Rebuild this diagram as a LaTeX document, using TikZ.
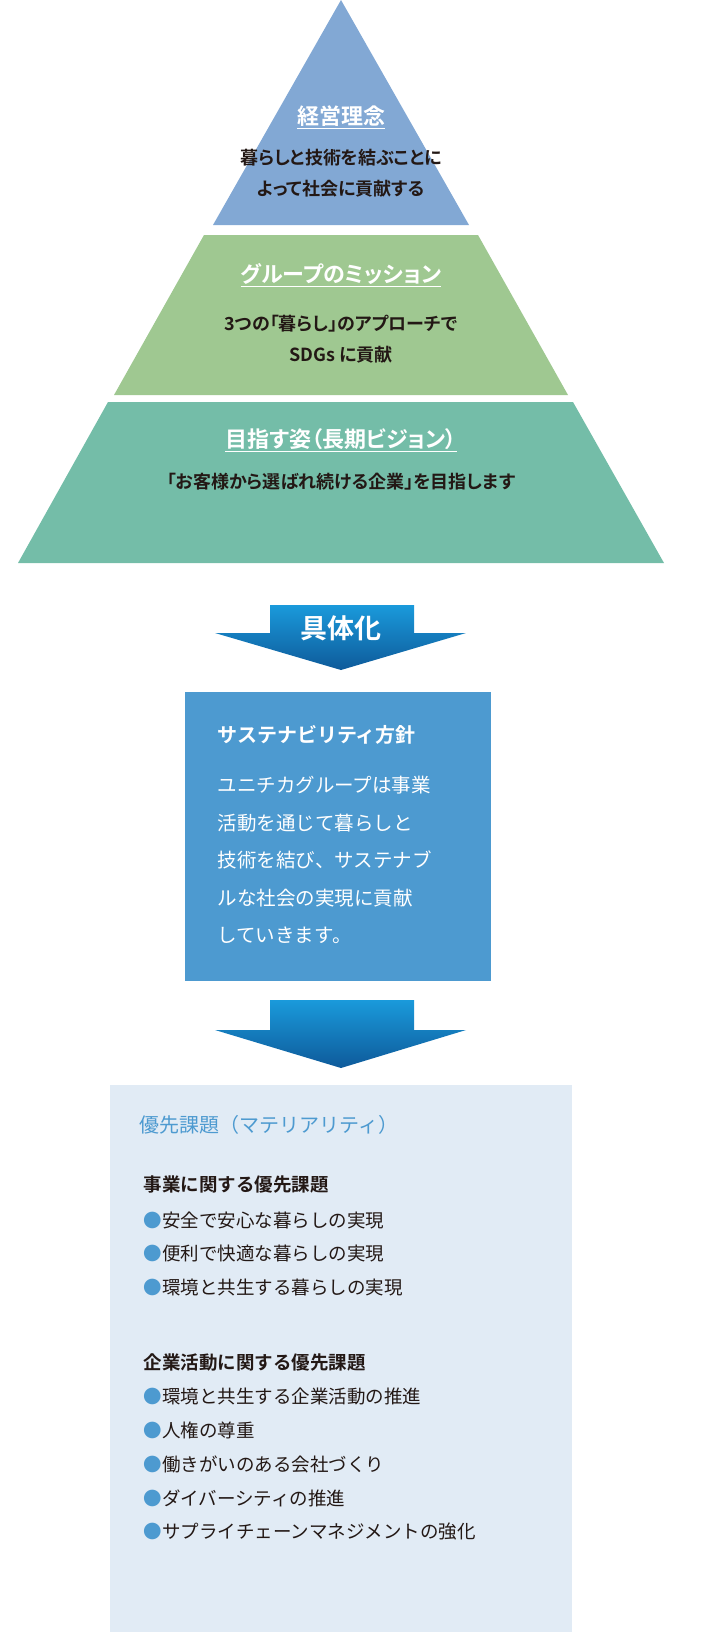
\documentclass[tikz,border=0pt]{standalone}
\usepackage{fontspec}
\newfontfamily\jp{Noto Sans CJK JP}
\newfontfamily\jpb{Noto Sans CJK JP Bold}
\newfontfamily\jpbp[RawFeature=+palt]{Noto Sans CJK JP Bold}
\usetikzlibrary{positioning}
\definecolor{tierA}{HTML}{82A8D4}
\definecolor{tierB}{HTML}{9FC891}
\definecolor{tierC}{HTML}{74BDA8}
\definecolor{policyblue}{HTML}{4D9AD0}
\definecolor{matbg}{HTML}{E1EBF5}
\definecolor{arrowtop}{HTML}{1A9ADB}
\definecolor{arrowbot}{HTML}{0E5A9A}
\definecolor{darktext}{HTML}{231815}
\newcommand{\ul}[1]{\underline{#1}}
\begin{document}
\begin{tikzpicture}[x=1pt,y=-1pt,
    tier title/.style={font=\jpbp\fontsize{22}{24}\selectfont,text=white},
    tier text/.style={font=\jpbp\fontsize{18}{31}\selectfont,text=darktext,align=center},
    item/.style={font=\jp\fontsize{18.5}{20}\selectfont,text=darktext,anchor=west},
    head/.style={font=\jpb\fontsize{18.5}{20}\selectfont,text=darktext,anchor=west},
    dot/.style={text=policyblue}]
  \useasboundingbox (0,0) rectangle (710,1632);
  % pyramid
  \fill[tierA] (341,0) -- (469,225) -- (213,225) -- cycle;
  \fill[tierB] (204,235) -- (478,235) -- (568,395) -- (114,395) -- cycle;
  \fill[tierC] (108,402) -- (573,402) -- (664,563) -- (18,563) -- cycle;
  \node[tier title] (philo) at (341,117) {\ul{経営理念}};
  \node[tier text] (philotext) at (341,173) {暮らしと技術を結ぶことに\\よって社会に貢献する};
  \node[tier title] (mission) at (341,275) {\ul{グループのミッション}};
  \node[tier text] (missiontext) at (341,339) {3つの「暮らし」のアプローチで\\SDGs に貢献};
  \node[tier title] (vision) at (341,440) {\ul{目指す姿（長期ビジョン）}};
  \node[tier text] (visiontext) at (341,482) {「お客様から選ばれ続ける企業」を目指します};
  % arrows
  \shade[top color=arrowtop,bottom color=arrowbot]
    (270,605) -- (414,605) -- (414,633) -- (466,633) -- (341,670) -- (215,633) -- (270,633) -- cycle;
  \node[font=\jpb\fontsize{27}{28}\selectfont,text=white] (concrete) at (341,628) {具体化};
  \shade[top color=arrowtop,bottom color=arrowbot]
    (270,1000) -- (414,1000) -- (414,1030) -- (466,1030) -- (341,1068) -- (215,1030) -- (270,1030) -- cycle;
  % policy box
  \fill[policyblue] (185,692) rectangle (491,981);
  \node[font=\jpb\fontsize{20}{21}\selectfont,text=white,anchor=west] (policy) at (214,735) {サステナビリティ方針};
  \node[font=\jp\fontsize{19.5}{37.5}\selectfont,text=white,anchor=north west,align=left] (policytext) at (214,773)
    {ユニチカグループは事業\\活動を通じて暮らしと\\技術を結び、サステナブ\\ルな社会の実現に貢献\\していきます。};
  % materiality
  \fill[matbg] (110,1085) rectangle (572,1632);
  \node[font=\jp\fontsize{20}{21}\selectfont,text=policyblue,anchor=west] (mat) at (136,1125) {優先課題（マテリアリティ）};
  \node[head] (bizhead) at (140,1185) {事業に関する優先課題};
  \node[item] (b1) at (140,1220) {{\color{policyblue}●}安全で安心な暮らしの実現};
  \node[item] (b2) at (140,1254) {{\color{policyblue}●}便利で快適な暮らしの実現};
  \node[item] (b3) at (140,1288) {{\color{policyblue}●}環境と共生する暮らしの実現};
  \node[head] (corphead) at (140,1362) {企業活動に関する優先課題};
  \node[item] (c1) at (140,1396) {{\color{policyblue}●}環境と共生する企業活動の推進};
  \node[item] (c2) at (140,1430) {{\color{policyblue}●}人権の尊重};
  \node[item] (c3) at (140,1464) {{\color{policyblue}●}働きがいのある会社づくり};
  \node[item] (c4) at (140,1498) {{\color{policyblue}●}ダイバーシティの推進};
  \node[item] (c5) at (140,1532) {{\color{policyblue}●}サプライチェーンマネジメントの強化};
\end{tikzpicture}
\end{document}
